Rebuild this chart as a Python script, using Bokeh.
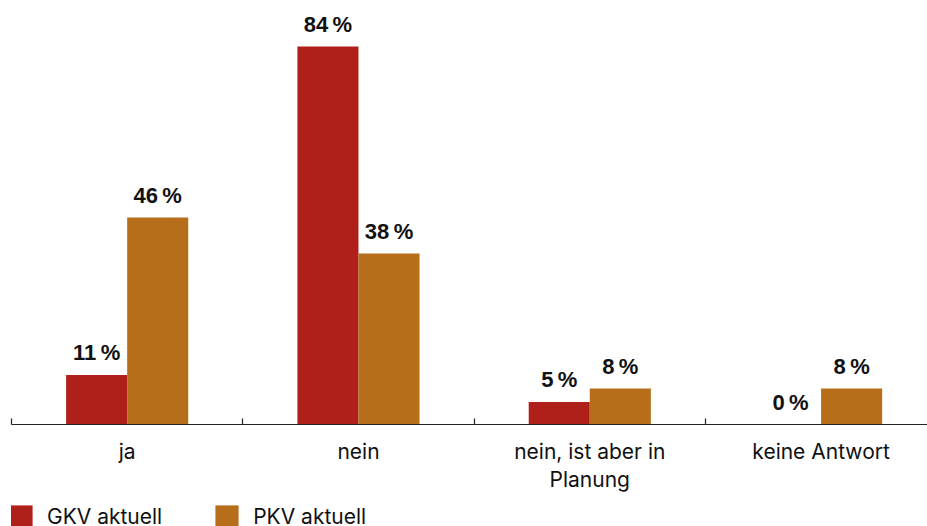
from bokeh.plotting import figure
from bokeh.layouts import column
from bokeh.models import (Range1d, FixedTicker, LinearAxis, ColumnDataSource,
                          Legend, LegendItem)
from bokeh.core.properties import value
from bokeh.embed import file_html
from bokeh.resources import INLINE

# Survey answers, share of respondents in percent
categories = ["ja", "nein", "nein, ist aber in\nPlanung", "keine Antwort"]
gkv = [11, 84, 5, 0]
pkv = [46, 38, 8, 8]
series = ["GKV aktuell", "PKV aktuell"]
colors = ["#AF201B", "#B76E1B"]

FONT = "Inter"
VALUE_FONT = "Liberation Sans"
bar_w = 0.264

n = len(categories)
centers = [i + 0.5 for i in range(n)]

src_gkv = ColumnDataSource(dict(
    x=[c - bar_w / 2 for c in centers], top=gkv,
    label=[f"{v}\u2009%" for v in gkv]))
src_pkv = ColumnDataSource(dict(
    x=[c + bar_w / 2 for c in centers], top=pkv,
    label=[f"{v}\u2009%" for v in pkv]))

p = figure(width=927, height=495, output_backend="svg", toolbar_location=None,
           x_range=Range1d(0, 3.96), y_range=Range1d(0, 94.2),
           x_axis_type=None, y_axis_type=None,
           min_border_left=11, min_border_right=0, min_border_top=0,
           min_border_bottom=71)
p.outline_line_color = None
p.grid.visible = False
p.border_fill_color = "white"

p.vbar(x="x", top="top", width=bar_w, source=src_gkv,
       fill_color=colors[0], line_color=None)
p.vbar(x="x", top="top", width=bar_w, source=src_pkv,
       fill_color=colors[1], line_color=None)

for src in (src_gkv, src_pkv):
    p.text(x="x", y="top", text="label", source=src,
           text_font=value(VALUE_FONT), text_font_style="bold",
           text_font_size="22px", text_color="#111111",
           text_align="center", text_baseline="alphabetic", y_offset=-22)

# Category axis: tick marks on the band boundaries, labels in the middle
xaxis = LinearAxis(
    ticker=FixedTicker(ticks=centers, minor_ticks=list(range(n + 1))),
    major_label_overrides={c: lab for c, lab in zip(centers, categories)},
    major_tick_in=0, major_tick_out=0,
    minor_tick_in=6, minor_tick_out=0,
    axis_line_color="#222222", minor_tick_line_color="#222222",
    axis_line_width=1.2, minor_tick_line_width=1.2,
    major_label_text_font=FONT, major_label_text_font_size="21px",
    major_label_text_color="#111111", major_label_standoff=14,
    major_label_text_line_height=1.15)
p.add_layout(xaxis, "below")

# Legend strip underneath the chart; its swatch renderers sit outside the
# visible range so that only their legend glyphs appear
leg = figure(width=927, height=31, output_backend="svg", toolbar_location=None,
             x_range=Range1d(0, 1), y_range=Range1d(0, 1),
             x_axis_type=None, y_axis_type=None,
             min_border_left=0, min_border_right=0, min_border_top=0,
             min_border_bottom=0)
leg.outline_line_color = None
leg.grid.visible = False
swatches = [leg.vbar(x=[5], top=[1], width=0.1, fill_color=c, line_color=None)
            for c in colors]

legend = Legend(
    items=[LegendItem(label=s, renderers=[r]) for s, r in zip(series, swatches)],
    orientation="horizontal", location=(-5, -5),
    glyph_width=29, glyph_height=29, label_standoff=12, spacing=50,
    padding=0, margin=0, border_line_color=None, background_fill_alpha=0,
    label_text_font=FONT, label_text_font_size="21px",
    label_text_color="#111111")
leg.add_layout(legend, "center")

open("out.html", "w").write(file_html(column(p, leg, spacing=0), INLINE))
